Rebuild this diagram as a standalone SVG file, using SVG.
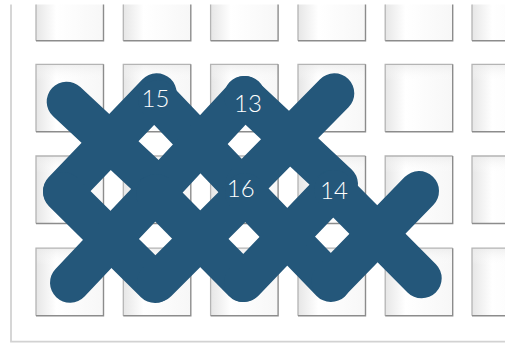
<svg xmlns="http://www.w3.org/2000/svg" width="505" height="343" viewBox="0 0 505 343">
  <style>
    .frame { fill: none; stroke: #d2d2d2; stroke-width: 1.8; }
    .cellfill { fill: url(#cellGrad); }
    .edgeL { fill: none; stroke: #b4b4b4; stroke-width: 1.3; }
    .edgeD { fill: none; stroke: #8c8c8c; stroke-width: 1.4; }
    .stitch { fill: none; stroke: #24577a; stroke-width: 40; stroke-linecap: round; }
    .lbl { fill: #ffffff; font-family: "Lato", "Open Sans", "Liberation Sans", sans-serif; font-weight: 300; font-size: 24px; text-anchor: middle; }
  </style>
  <defs>
    <linearGradient id="cellGrad" x1="0" y1="0" x2="1" y2="0">
      <stop offset="0" stop-color="#e6e6e6"/>
      <stop offset="0.3" stop-color="#ffffff"/>
      <stop offset="1" stop-color="#f7f7f7"/>
    </linearGradient>
    <linearGradient id="cellTop" x1="0" y1="0" x2="0" y2="1">
      <stop offset="0" stop-color="#e9e9e9" stop-opacity="0.7"/>
      <stop offset="0.25" stop-color="#ffffff" stop-opacity="0"/>
    </linearGradient>
    <g id="cell">
      <rect class="cellfill" x="0" y="0" width="67.5" height="67.5"/>
      <rect x="0" y="0" width="67.5" height="67.5" fill="url(#cellTop)"/>
      <path class="edgeL" d="M0,67.5 V0 H67.5"/>
      <path class="edgeD" d="M67.5,0 V67.5 H0"/>
    </g>
    <clipPath id="clip"><rect x="0" y="4.5" width="505" height="339"/></clipPath>
  </defs>

  <rect width="505" height="343" fill="#ffffff"/>

  <g id="frame">
    <path class="frame" d="M11,4.5 V341.6 H505"/>
  </g>

  <g id="grid" clip-path="url(#clip)">
    <use href="#cell" x="36" y="-26.8"/><use href="#cell" x="123.3" y="-26.8"/><use href="#cell" x="210.6" y="-26.8"/><use href="#cell" x="298" y="-26.8"/><use href="#cell" x="385.2" y="-26.8"/><use href="#cell" x="472" y="-26.8"/>
    <use href="#cell" x="36" y="64.3"/><use href="#cell" x="123.3" y="64.3"/><use href="#cell" x="210.6" y="64.3"/><use href="#cell" x="298" y="64.3"/><use href="#cell" x="385.2" y="64.3"/><use href="#cell" x="472" y="64.3"/>
    <use href="#cell" x="36" y="156"/><use href="#cell" x="123.3" y="156"/><use href="#cell" x="210.6" y="156"/><use href="#cell" x="298" y="156"/><use href="#cell" x="385.2" y="156"/><use href="#cell" x="472" y="156"/>
    <use href="#cell" x="36" y="248.2"/><use href="#cell" x="123.3" y="248.2"/><use href="#cell" x="210.6" y="248.2"/><use href="#cell" x="298" y="248.2"/><use href="#cell" x="385.2" y="248.2"/><use href="#cell" x="472" y="248.2"/>
  </g>

  <g id="stitches">
    <g id="xA"><line class="stitch" x1="66.7" y1="101.7" x2="153.3" y2="182.3"/><line class="stitch" x1="156.7" y1="93.3" x2="63" y2="191"/></g>
    <g id="xB"><line class="stitch" x1="158" y1="100" x2="242" y2="188"/><line class="stitch" x1="245" y1="96" x2="156" y2="192"/></g>
    <g id="xC"><line class="stitch" x1="244" y1="96" x2="338" y2="184"/><line class="stitch" x1="334.3" y1="93.3" x2="245.7" y2="183.3"/></g>
    <g id="xD"><line class="stitch" x1="63" y1="192" x2="155" y2="283"/><line class="stitch" x1="70" y1="282.7" x2="152" y2="196"/></g>
    <g id="xE"><line class="stitch" x1="156" y1="194" x2="243" y2="282"/><line class="stitch" x1="157" y1="282" x2="244" y2="195"/></g>
    <g id="xF"><line class="stitch" x1="245" y1="193" x2="331" y2="282"/><line class="stitch" x1="332" y1="190" x2="244" y2="282"/></g>
    <g id="xG"><line class="stitch" x1="334" y1="190" x2="421.7" y2="278.3"/><line class="stitch" x1="419" y1="191" x2="331.5" y2="281"/></g>
  </g>

  <g id="labels">
    <text class="lbl" x="155.5" y="106.7">15</text>
    <text class="lbl" x="248" y="112">13</text>
    <text class="lbl" x="240.7" y="196.7">16</text>
    <text class="lbl" x="334" y="199">14</text>
  </g>
</svg>
